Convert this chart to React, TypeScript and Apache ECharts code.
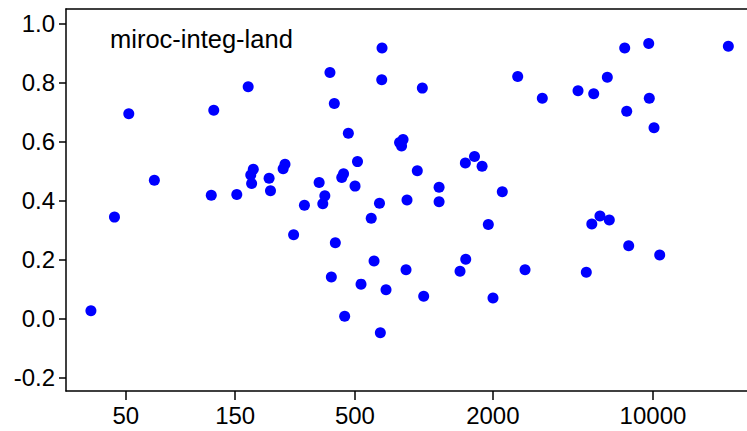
import React, { useEffect, useRef } from "react";
import * as echarts from "echarts";

// Horizontal quantity (log scale) and score for each run
const xVals = [
  35.2, 44.6, 51.5, 66.6, 118, 121, 152.5, 171, 180, 175.5,
  177, 211, 214, 247.6, 243, 270, 301, 349, 369.5, 362,
  389, 406.5, 410.6, 394.5, 446, 438, 451, 468, 513, 500.5,
  531.6, 589, 606, 640, 645.5, 656.6, 654.6, 683.5, 811, 783,
  799, 835.7, 844, 936, 984.5, 998, 1165, 1165, 1438, 1523,
  1517, 1663, 1795, 1911, 2003, 2199, 2568, 2764, 3288, 4708,
  5117, 5407, 5512, 5870, 6320, 6448, 7527, 7680, 7835, 9581,
  9638, 10106, 10700, 21330,
];
const yVals = [
  0.027, 0.344, 0.694, 0.469, 0.418, 0.706, 0.421, 0.786, 0.506, 0.487,
  0.458, 0.476, 0.433, 0.523, 0.508, 0.284, 0.384, 0.461, 0.416, 0.389,
  0.834, 0.729, 0.257, 0.141, 0.491, 0.478, 0.008, 0.628, 0.532, 0.449,
  0.117, 0.34, 0.195, 0.391, -0.048, 0.917, 0.809, 0.098, 0.607, 0.597,
  0.585, 0.166, 0.402, 0.501, 0.781, 0.076, 0.445, 0.396, 0.161, 0.201,
  0.527, 0.549, 0.516, 0.319, 0.07, 0.43, 0.82, 0.166, 0.747, 0.772,
  0.157, 0.321, 0.762, 0.348, 0.818, 0.334, 0.917, 0.703, 0.247, 0.932,
  0.747, 0.647, 0.216, 0.923,
];

const xTicks = [50, 150, 500, 2000, 10000];
const yTicks = [-0.2, 0, 0.2, 0.4, 0.6, 0.8, 1.0];
const xRange = [27.4, 25730];
const yRange = [-0.245, 1.049];
const title = "miroc-integ-land";

const FONT = "'Liberation Sans', Arial, sans-serif";

export default function App() {
  const ref = useRef<HTMLDivElement>(null);

  useEffect(() => {
    if (!ref.current) return;
    const chart = echarts.init(ref.current, null, { renderer: "svg" });

    const lg = (v: number) => Math.log10(v);
    const points = xVals.map((x, i) => [lg(x), yVals[i]]);
    const tickLog = xTicks.map(lg);
    const frameLine = { show: true, onZero: false, lineStyle: { color: "#000", width: 1.5 } };

    chart.setOption({
      animation: false,
      backgroundColor: "#ffffff",
      grid: { left: 66, top: 9, right: 0, height: 382 },
      xAxis: [
        {
          type: "value",
          position: "bottom",
          min: lg(xRange[0]),
          max: lg(xRange[1]),
          axisLine: frameLine,
          splitLine: { show: false },
          axisTick: {
            show: true,
            length: 9,
            customValues: tickLog,
            lineStyle: { color: "#000", width: 1.5 },
          },
          axisLabel: {
            customValues: tickLog,
            margin: 12,
            color: "#000",
            fontFamily: FONT,
            fontSize: 24,
            formatter: (v: number) => {
              let best = xTicks[0];
              for (const t of xTicks) {
                if (Math.abs(lg(t) - v) < Math.abs(lg(best) - v)) best = t;
              }
              return String(best);
            },
          },
        },
        {
          // top edge of the plot frame
          type: "value",
          position: "top",
          min: lg(xRange[0]),
          max: lg(xRange[1]),
          axisLine: frameLine,
          axisTick: { show: false },
          axisLabel: { show: false },
          splitLine: { show: false },
        },
      ],
      yAxis: {
        type: "value",
        min: yRange[0],
        max: yRange[1],
        axisLine: frameLine,
        splitLine: { show: false },
        axisTick: {
          show: true,
          length: 7,
          customValues: yTicks,
          lineStyle: { color: "#000", width: 1.5 },
        },
        axisLabel: {
          customValues: yTicks,
          margin: 11,
          color: "#000",
          fontFamily: FONT,
          fontSize: 24,
          formatter: (v: number) => v.toFixed(1),
        },
      },
      graphic: [
        {
          type: "text",
          x: 110,
          y: 39,
          style: {
            text: title,
            fill: "#000",
            font: `25.5px ${FONT}`,
            verticalAlign: "middle",
            align: "left",
          },
        },
      ],
      series: [
        {
          type: "scatter",
          xAxisIndex: 0,
          data: points,
          symbol: "circle",
          symbolSize: 11,
          itemStyle: { color: "#0000ff", opacity: 1 },
          emphasis: { disabled: true },
        },
      ],
    });

    return () => chart.dispose();
  }, []);

  return (
    <div
      ref={ref}
      style={{ position: "absolute", left: 0, top: 0, width: 747, height: 431 }}
    />
  );
}
